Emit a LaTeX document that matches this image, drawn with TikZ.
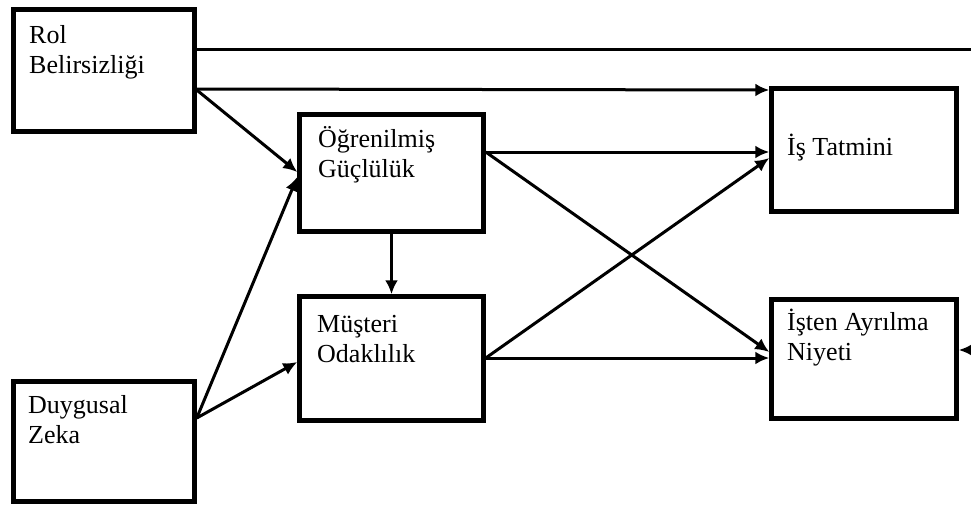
\documentclass[tikz,border=0pt]{standalone}
\usepackage{fontspec}
\setmainfont{Liberation Serif}
\usetikzlibrary{arrows.meta}
\tikzset{
  box/.style={draw, line width=4.5pt, rectangle, inner sep=0pt},
  lbl/.style={anchor=base west, inner sep=0pt, font=\fontsize{26}{30}\selectfont, align=left},
  arr/.style={line width=3pt, -{Latex[length=14pt,width=13pt]}},
  ln/.style={line width=3pt}
}
\begin{document}
\begin{tikzpicture}[x=1pt,y=-1pt]
\useasboundingbox (0,0) rectangle (971,506);
\fill[white] (0,0) rectangle (971,506);
% boxes
\node[box, minimum width=181pt, minimum height=122pt] (rol) at (104,70.5) {};
\node[box, minimum width=181pt, minimum height=120pt] (duy) at (104,441.5) {};
\node[box, minimum width=184pt, minimum height=117pt] (ogr) at (391.5,173) {};
\node[box, minimum width=184pt, minimum height=124pt] (mus) at (391.5,358.5) {};
\node[box, minimum width=185pt, minimum height=123pt] (tat) at (864,150) {};
\node[box, minimum width=185pt, minimum height=119pt] (ayr) at (864,359) {};
% labels
\node[lbl] (trol) at (29,73) {Rol\\Belirsizliği};
\node[lbl] (tduy) at (28,443) {Duygusal\\Zeka};
\node[lbl] (togr) at (318,177) {Öğrenilmiş\\Güçlülük};
\node[lbl] (tmus) at (317,362) {Müşteri\\Odaklılık};
\node[lbl] (ttat) at (787,155) {İş Tatmini};
\node[lbl] (tayr) at (787,360) {İşten Ayrılma\\Niyeti};
% off-picture ends
\coordinate (e1) at (971,49);
\coordinate (e2) at (971,350);
% connectors
\draw[ln] (rol.east |- 0,49) -- (e1);
\draw[arr] (rol.east |- 0,89) -- (tat.west |- 0,90);
\draw[arr] (rol.east |- 0,90) -- (ogr.west |- 0,172);
\draw[arr] (duy.east |- 0,418) -- (ogr.west |- 0,177);
\draw[arr] (duy.east |- 0,418) -- (mus.west |- 0,362);
\draw[arr] (ogr.south) -- (mus.north);
\draw[arr] (ogr.east |- 0,152) -- (tat.west |- 0,152);
\draw[arr] (ogr.east |- 0,152) -- (ayr.west |- 0,352);
\draw[arr] (mus.east |- 0,358) -- (tat.west |- 0,158);
\draw[arr] (mus.east |- 0,358) -- (ayr.west |- 0,358);
\draw[arr] (e2) -- (ayr.east |- 0,350);
\end{tikzpicture}
\end{document}
